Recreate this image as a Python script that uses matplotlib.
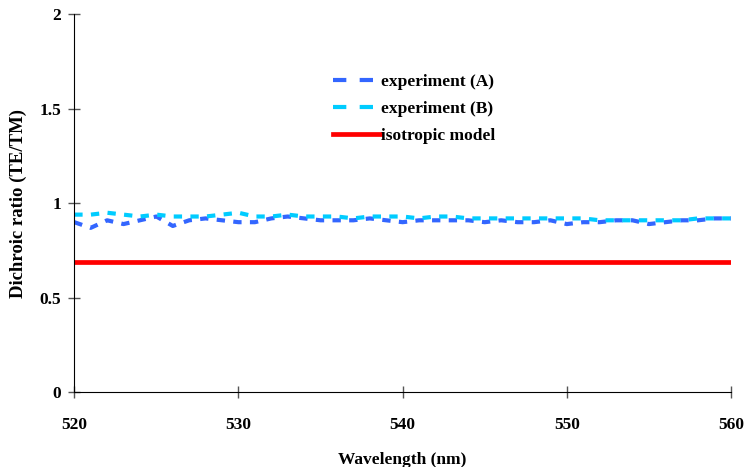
import numpy as np
import matplotlib.pyplot as plt
from matplotlib.lines import Line2D

# wavelength grid (nm)
wavelength = np.arange(520, 561, 1)

exp_a = [0.90, 0.87, 0.91, 0.89, 0.91, 0.93, 0.88, 0.91, 0.92, 0.91,
         0.90, 0.90, 0.92, 0.93, 0.92, 0.91, 0.91, 0.91, 0.92, 0.91,
         0.90, 0.91, 0.91, 0.91, 0.91, 0.90, 0.91, 0.90, 0.90, 0.91,
         0.89, 0.90, 0.90, 0.91, 0.91, 0.89, 0.90, 0.91, 0.91, 0.92, 0.92]
exp_b = [0.94, 0.94, 0.95, 0.94, 0.93, 0.94, 0.93, 0.93, 0.93, 0.94,
         0.95, 0.93, 0.93, 0.94, 0.93, 0.93, 0.93, 0.92, 0.93, 0.93,
         0.93, 0.92, 0.93, 0.93, 0.92, 0.92, 0.92, 0.92, 0.92, 0.92,
         0.92, 0.92, 0.91, 0.91, 0.91, 0.91, 0.91, 0.91, 0.92, 0.92, 0.92]
iso_model = 0.69

col_a = '#3366ff'
col_b = '#00ccff'
col_iso = '#ff0000'

plt.rcParams['font.family'] = 'Liberation Serif'
plt.rcParams['font.weight'] = 'bold'
plt.rcParams['font.size'] = 12.5

fig = plt.figure(figsize=(7.45, 4.67), dpi=100)
ax = fig.add_axes([0.0997, 0.16, 0.8815, 0.8094])

ax.plot(wavelength, exp_a, color=col_a, linewidth=3, linestyle=(0, (2, 2)))
ax.plot(wavelength, exp_b, color=col_b, linewidth=3, linestyle=(0, (2, 2)))
ax.plot(wavelength, [iso_model] * len(wavelength), color=col_iso, linewidth=3.4)

ax.set_xlim(520, 560)
ax.set_ylim(0, 2)
ax.set_xticks([520, 530, 540, 550, 560])
ax.set_yticks([0, 0.5, 1, 1.5, 2])
ax.set_yticklabels(['0', '0.5', '1', '1.5', '2'])
ax.tick_params(direction='inout', length=9, width=1, color='#555555')
ax.tick_params(axis='x', pad=13)
ax.tick_params(axis='y', pad=5)
ax.spines['top'].set_visible(False)
ax.spines['right'].set_visible(False)

ax.set_xlabel('Wavelength (nm)', fontweight='bold', fontsize=12.5, labelpad=14)
ax.set_ylabel('Dichroic ratio (TE/TM)', fontweight='bold', fontsize=13.5, labelpad=9)

# legend proxies (Excel draws longer dashes in the key)
handles = [
    Line2D([], [], color=col_a, linewidth=3, linestyle=(0, (3.2, 3.2))),
    Line2D([], [], color=col_b, linewidth=3, linestyle=(0, (3.2, 3.2))),
    Line2D([], [], color=col_iso, linewidth=3.4),
]
labels = ['experiment (A)', 'experiment (B)', 'isotropic model']
ax.legend(handles, labels, loc='upper left', bbox_to_anchor=(0.447, 0.841),
          bbox_transform=fig.transFigure, frameon=False, fontsize=12.5,
          handlelength=2.7, handletextpad=0.08, labelspacing=0.62,
          borderpad=0, borderaxespad=0)

plt.savefig('out.png', dpi=100)
